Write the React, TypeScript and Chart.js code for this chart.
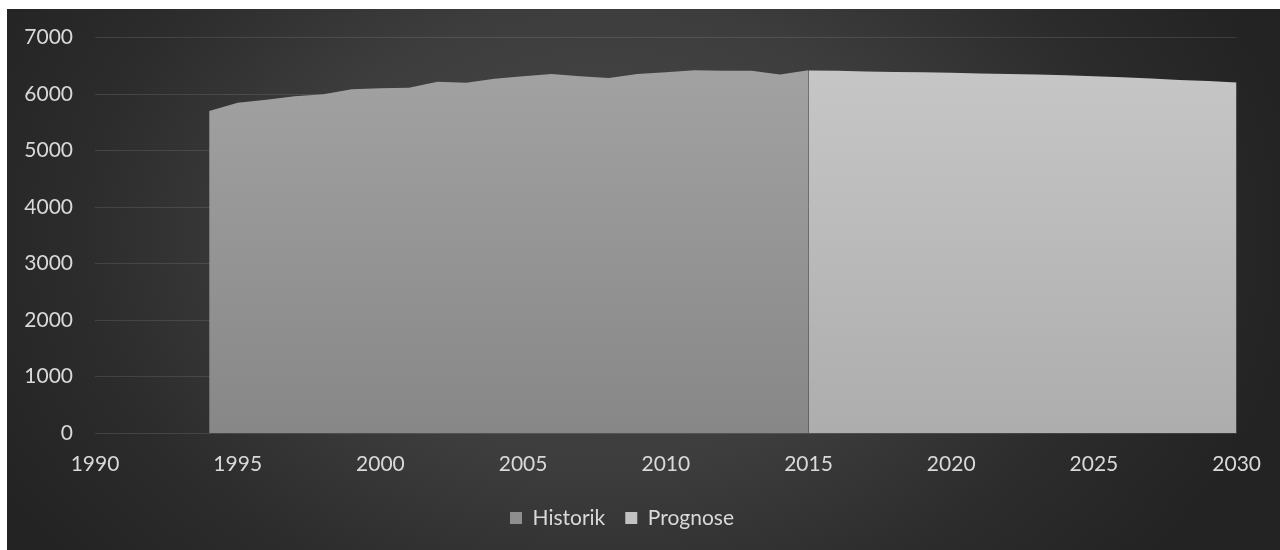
import React, { useEffect, useRef } from "react";
import { Chart, registerables } from "chart.js";

Chart.register(...registerables);

const histYears = [1994, 1995, 1996, 1997, 1998, 1999, 2000, 2001, 2002, 2003, 2004, 2005, 2006, 2007, 2008, 2009, 2010, 2011, 2012, 2013, 2014, 2015];
const histValues = [5700, 5845, 5900, 5960, 5995, 6085, 6100, 6110, 6215, 6200, 6270, 6315, 6355, 6315, 6285, 6355, 6385, 6420, 6410, 6410, 6345, 6420];
const progYears = [2015, 2016, 2017, 2018, 2019, 2020, 2021, 2022, 2023, 2024, 2025, 2026, 2027, 2028, 2029, 2030];
const progValues = [6415, 6410, 6400, 6390, 6385, 6375, 6365, 6355, 6345, 6330, 6315, 6295, 6275, 6250, 6230, 6205];
const seriesNames = ["Historik", "Prognose"];
const xTickValues = [1990, 1995, 2000, 2005, 2010, 2015, 2020, 2025, 2030];
const yTickValues = [0, 1000, 2000, 3000, 4000, 5000, 6000, 7000];

const TEXT = "#d9d9d9";
const FONT = "Lato";

function gradientFill(top: string, bottom: string, fallback: string) {
  return (ctx: any) => {
    const chart = ctx.chart;
    const area = chart.chartArea;
    if (!area) return fallback;
    const g = chart.ctx.createLinearGradient(0, area.top, 0, area.bottom);
    g.addColorStop(0, top);
    g.addColorStop(1, bottom);
    return g;
  };
}

export default function App() {
  const ref = useRef<HTMLCanvasElement | null>(null);

  useEffect(() => {
    if (!ref.current) return;
    const legendColors = ["#8f8f8f", "#c2c2c2"];
    const chart = new Chart(ref.current, {
      type: "line",
      data: {
        datasets: [
          {
            label: seriesNames[0],
            data: histYears.map((x, i) => ({ x, y: histValues[i] })),
            fill: "origin",
            backgroundColor: gradientFill("#a4a4a4", "#878787", "#999999"),
            borderWidth: 0,
            borderColor: "rgba(0,0,0,0)",
            pointRadius: 0,
            tension: 0,
          },
          {
            label: seriesNames[1],
            data: progYears.map((x, i) => ({ x, y: progValues[i] })),
            fill: "origin",
            backgroundColor: gradientFill("#c8c8c8", "#adadad", "#c0c0c0"),
            borderWidth: 0,
            borderColor: "rgba(0,0,0,0)",
            pointRadius: 0,
            tension: 0,
          },
        ],
      },
      options: {
        animation: false,
        responsive: true,
        maintainAspectRatio: false,
        layout: { padding: { left: 0, right: 43, top: 28.5, bottom: 11.5 } },
        plugins: {
          tooltip: { enabled: false },
          legend: {
            position: "bottom",
            labels: {
              color: TEXT,
              font: { family: FONT, size: 21 },
              boxWidth: 12,
              boxHeight: 12,
              padding: 20,
              generateLabels: (c: any) =>
                Chart.defaults.plugins.legend.labels.generateLabels(c).map((l: any, i: number) => ({
                  ...l,
                  fillStyle: legendColors[i],
                  strokeStyle: legendColors[i],
                  lineWidth: 0,
                  fontColor: TEXT,
                })),
            },
          },
        },
        scales: {
          x: {
            type: "linear",
            min: 1990,
            max: 2030,
            afterBuildTicks: (s: any) => {
              s.ticks = xTickValues.map((v) => ({ value: v }));
            },
            afterFit: (s: any) => {
              s.height = 54.5;
            },
            grid: { display: false, drawTicks: false },
            border: { display: false },
            ticks: {
              color: TEXT,
              font: { family: FONT, size: 21 },
              padding: 19,
              maxRotation: 0,
              autoSkip: false,
              callback: (v: any) => String(v),
            },
          },
          y: {
            min: 0,
            max: 7000,
            afterBuildTicks: (s: any) => {
              s.ticks = yTickValues.map((v) => ({ value: v }));
            },
            afterFit: (s: any) => {
              s.width = 88;
            },
            grid: {
              color: "rgba(255,255,255,0.11)",
              lineWidth: 1,
              drawTicks: true,
              tickLength: 22,
              tickColor: "rgba(0,0,0,0)",
            },
            border: { display: false },
            ticks: {
              color: TEXT,
              font: { family: FONT, size: 21 },
              padding: 0,
              callback: (v: any) => String(v),
            },
          },
        },
      },
    });
    return () => chart.destroy();
  }, []);

  return (
    <div
      style={{
        position: "absolute",
        left: 7,
        top: 9,
        width: 1273,
        height: 541,
        background:
          "radial-gradient(ellipse 55% 95% at 47% 42%, #4a4a4a 0%, #3d3d3d 45%, #2c2c2c 75%, #232323 100%)",
      }}
    >
      <canvas ref={ref} />
    </div>
  );
}
